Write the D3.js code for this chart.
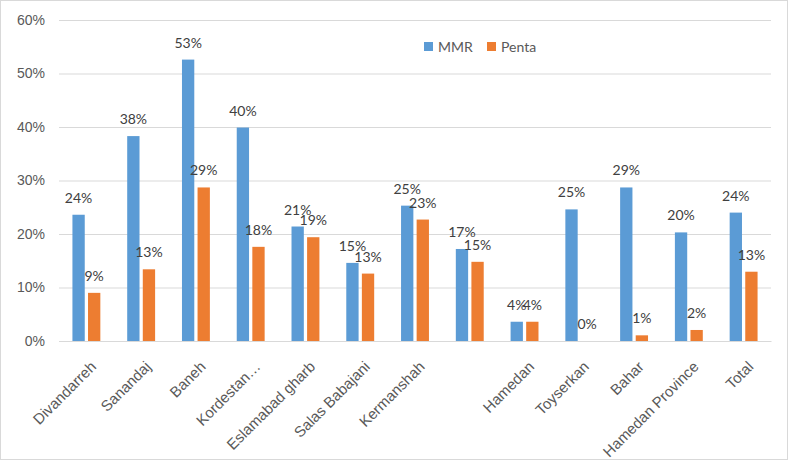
<!DOCTYPE html>
<html>
<head>
<meta charset="utf-8">
<script src="https://cdn.jsdelivr.net/npm/d3@7"></script>
<style>
  html, body { margin: 0; padding: 0; background: #fff; }
  svg { display: block; font-family: Lato, "Liberation Sans", sans-serif; }
</style>
</head>
<body>
<svg id="chart" width="788" height="460"></svg>
<script>
const categories = ["Divandarreh", "Sanandaj", "Baneh", "Kordestan…", "Eslamabad gharb", "Salas Babajani", "Kermanshah", "", "Hamedan", "Toyserkan", "Bahar", "Hamedan Province", "Total"];
const seriesNames = ["MMR", "Penta"];
const mmr   = [23.6, 38.3, 52.6, 39.9, 21.4, 14.6, 25.3, 17.2, 3.6, 24.6, 28.7, 20.3, 24.0];
const penta = [9.0, 13.4, 28.7, 17.6, 19.4, 12.6, 22.7, 14.8, 3.6, 0, 1.06, 2.06, 12.95];
const yTicks = [0, 10, 20, 30, 40, 50, 60];
const colors = ["#5B9BD5", "#ED7D31"];

const svg = d3.select("#chart");
const W = 788, H = 460;
const m = {left: 59, right: 17, top: 20, bottom: 119};
const x0 = m.left, x1 = W - m.right, yTop = m.top, yBot = H - m.bottom;

svg.append("rect").attr("x", 0.5).attr("y", 0.5).attr("width", W - 1).attr("height", H - 1)
  .attr("fill", "#fff").attr("stroke", "#d9d9d9");

const idx = d3.range(categories.length);
const x = d3.scaleBand().domain(idx).range([x0, x1]).padding(0);
const groupW = 27.9;
const xs = d3.scaleBand().domain(seriesNames).range([0, groupW]).paddingInner(0.21);
const y = d3.scaleLinear().domain([0, 60]).range([yBot, yTop]);

// gridlines
const yAxis = d3.axisLeft(y).tickValues(yTicks).tickFormat(d => d + "%").tickSize(-(x1 - x0)).tickPadding(14);
const gy = svg.append("g").attr("transform", `translate(${x0},0)`).call(yAxis);
gy.select(".domain").remove();
gy.selectAll(".tick line").attr("stroke", "#d9d9d9").attr("stroke-width", 1);
gy.selectAll(".tick text").attr("fill", "#595959").attr("font-size", 14);

// x axis labels
const xAxis = d3.axisBottom(x).tickFormat(i => categories[i]).tickSize(0);
const gx = svg.append("g").attr("transform", `translate(0,${yBot})`).call(xAxis);
gx.select(".domain").attr("stroke", "#d9d9d9");
gx.selectAll(".tick text")
  .attr("fill", "#595959").attr("font-size", 15)
  .attr("text-anchor", "end")
  .attr("y", 0).attr("dy", "0.35em")
  .attr("transform", "translate(7,23) rotate(-45)");

const data = [mmr, penta];
const fmt = v => Math.round(v) + "%";

seriesNames.forEach((s, si) => {
  const g = svg.append("g");
  g.selectAll("rect").data(idx).join("rect")
    .attr("x", i => x(i) + (x.bandwidth() - groupW) / 2 + xs(s))
    .attr("width", xs.bandwidth())
    .attr("y", i => y(data[si][i]))
    .attr("height", i => yBot - y(data[si][i]))
    .attr("fill", colors[si]);
  g.selectAll("text").data(idx).join("text")
    .attr("x", i => x(i) + (x.bandwidth() - groupW) / 2 + xs(s) + xs.bandwidth() / 2)
    .attr("y", i => y(data[si][i]) - 12)
    .attr("text-anchor", "middle")
    .attr("fill", "#404040").attr("font-size", 14)
    .text(i => fmt(data[si][i]));
});

// legend
const leg = svg.append("g");
const legX = [424, 487];
seriesNames.forEach((s, si) => {
  leg.append("rect").attr("x", legX[si]).attr("y", 42).attr("width", 9).attr("height", 9).attr("fill", colors[si]);
  leg.append("text").attr("x", legX[si] + 14).attr("y", 47).attr("dy", "0.35em")
    .attr("fill", "#595959").attr("font-size", 14).text(s);
});
</script>
</body>
</html>
